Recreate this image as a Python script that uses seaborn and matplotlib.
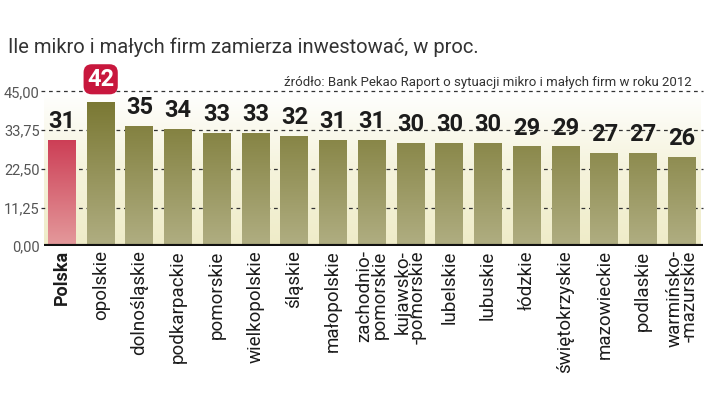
import numpy as np
import pandas as pd
import matplotlib
matplotlib.use("Agg")
import matplotlib.pyplot as plt
from matplotlib.colors import LinearSegmentedColormap
import seaborn as sns

# data
regions = ["Polska", "opolskie", "dolnośląskie", "podkarpackie", "pomorskie",
           "wielkopolskie", "śląskie", "małopolskie", "zachodnio-\npomorskie",
           "kujawsko-\n-pomorskie", "lubelskie", "lubuskie", "łódzkie",
           "świętokrzyskie", "mazowieckie", "podlaskie", "warmińsko-\n-mazurskie"]
values = [31, 42, 35, 34, 33, 33, 32, 31, 31, 30, 30, 30, 29, 29, 27, 27, 26]
yticks = [0, 11.25, 22.5, 33.75, 45]
ytick_labels = ["0,00", "11,25", "22,50", "33,75", "45,00"]

title = "Ile mikro i małych firm zamierza inwestować, w proc."
source = "źródło: Bank Pekao Raport o sytuacji mikro i małych firm w roku 2012"

sns.set_style("white")
plt.rcParams["font.family"] = ["Roboto", "DejaVu Sans"]

df = pd.DataFrame({"region": regions, "value": values})

fig = plt.figure(figsize=(7.2, 3.99), dpi=100)
ax = fig.add_axes([0.061, 0.383, 0.915, 0.405])

sns.barplot(data=df, x="region", y="value", ax=ax, width=0.72,
            color="#8a8845", edgecolor="none", zorder=3)

n = len(regions)
xl, xr = -0.465, n - 0.46
ax.set_xlim(xl, xr)
ax.set_ylim(0, 47)

# background gradient (white at top, cream at bottom)
bg = LinearSegmentedColormap.from_list("bg", ["#efecc8", "#f5f3dc", "#ffffff"])
grad = np.linspace(0, 1, 256).reshape(-1, 1)
ax.imshow(grad, cmap=bg, aspect="auto", origin="lower",
          extent=[xl, n - 0.52, 0, 45], zorder=0)

# bar gradients
olive = LinearSegmentedColormap.from_list("olive", ["#b0ae82", "#7a7833"])
red = LinearSegmentedColormap.from_list("red", ["#e49a9c", "#c41d3c"])
for i, p in enumerate(ax.patches):
    x0, w = p.get_x(), p.get_width()
    cm = red if i == 0 else olive
    im = ax.imshow(grad, cmap=cm, aspect="auto", origin="lower",
                   extent=[x0, x0 + w, 0, 42], zorder=3)
    im.set_clip_path(p)
    p.set_facecolor("none")

# dashed grid lines
for t in yticks[1:]:
    ax.axhline(t, xmin=-0.004, xmax=1, color="#333333", lw=0.9,
               ls=(0, (3, 3)), zorder=2, clip_on=False)
ax.axhline(0, color="#111111", lw=3, zorder=5)

# value labels
for i, v in enumerate(values):
    if i == 1:
        ax.text(i, v + 3.2, str(v), ha="center", va="bottom", fontsize=17,
                fontweight="bold", color="white", zorder=7,
                bbox=dict(boxstyle="round,pad=0.15,rounding_size=0.35",
                          fc="#c8173d", ec="none"))
    else:
        ax.text(i, v + 2.0, str(v), ha="center", va="bottom", fontsize=17,
                fontweight="bold", color="#1c1c1c", zorder=6)

ax.set_yticks(yticks)
ax.set_yticklabels(ytick_labels, fontsize=10.5, color="#555555")
ax.set_xticks(range(n))
ax.set_xticklabels(regions, rotation=90, fontsize=13.5, color="#1c1c1c",
                   va="top", ha="center", multialignment="right",
                   linespacing=0.78)
ax.get_xticklabels()[0].set_fontweight("bold")
ax.get_xticklabels()[0].set_fontsize(13)
ax.tick_params(axis="both", length=0, pad=3)
ax.set_xlabel("")
ax.set_ylabel("")
sns.despine(ax=ax, left=True, bottom=True)

fig.text(0.011, 0.882, title, fontsize=14.5, color="#333333", va="center")
ax.text(16.26, 45.6, source, fontsize=9.5, color="#333333",
        ha="right", va="bottom")

fig.savefig("out.png", dpi=100)
